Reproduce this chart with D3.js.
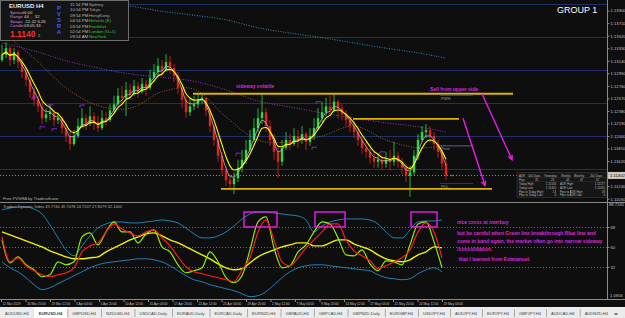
<!DOCTYPE html>
<html>
<head>
<meta charset="utf-8">
<script src="https://cdn.jsdelivr.net/npm/d3@7"></script>
<style>
	body { margin: 0; background: #0e0e0e; overflow: hidden; }
	svg { display: block; }
	text { font-family: "Liberation Sans", Arial, sans-serif; }
</style>
</head>
<body>
<div class="chart"></div>
<script>
	// candles (EURUSD H4), open = previous close
	var firstOpen = 1.1315;
	var closes = [1.1323,1.1333,1.1315,1.1327,1.1312,1.1297,1.1285,1.1267,1.1255,1.1245,
		1.1227,1.1233,1.1236,1.1224,1.1227,1.1212,1.1200,1.1188,1.1200,1.1215,
		1.1227,1.1218,1.1230,1.1221,1.1212,1.1227,1.1224,1.1239,1.1248,1.1261,
		1.1258,1.1270,1.1264,1.1276,1.1267,1.1279,1.1273,1.1288,1.1297,1.1306,
		1.1300,1.1312,1.1303,1.1291,1.1273,1.1255,1.1236,1.1245,1.1248,1.1255,
		1.1258,1.1239,1.1215,1.1194,1.1170,1.1148,1.1133,1.1127,1.1136,1.1152,
		1.1164,1.1179,1.1194,1.1212,1.1227,1.1236,1.1215,1.1194,1.1176,1.1161,
		1.1182,1.1194,1.1188,1.1200,1.1194,1.1203,1.1191,1.1200,1.1212,1.1227,
		1.1236,1.1245,1.1239,1.1252,1.1242,1.1233,1.1224,1.1215,1.1206,1.1194,
		1.1182,1.1176,1.1167,1.1161,1.1164,1.1158,1.1164,1.1161,1.1170,1.1161,
		1.1152,1.1140,1.1145,1.1170,1.1194,1.1206,1.1209,1.1200,1.1188,1.1176,
		1.1158,1.1140];
	var highs = [1.1338,1.1342,1.1336,1.1333,1.1330,1.1318,1.1303,1.1288,1.1273,1.1261,
		1.1252,1.1242,1.1248,1.1239,1.1236,1.1230,1.1218,1.1206,1.1209,1.1227,
		1.1242,1.1233,1.1245,1.1236,1.1230,1.1239,1.1236,1.1248,1.1261,1.1273,
		1.1276,1.1282,1.1279,1.1285,1.1282,1.1288,1.1285,1.1300,1.1309,1.1318,
		1.1315,1.1324,1.1321,1.1309,1.1297,1.1276,1.1261,1.1258,1.1261,1.1264,
		1.1264,1.1258,1.1242,1.1218,1.1197,1.1176,1.1155,1.1142,1.1145,1.1164,
		1.1179,1.1194,1.1209,1.1227,1.1242,1.1265,1.1242,1.1224,1.1203,1.1185,
		1.1194,1.1206,1.1203,1.1212,1.1209,1.1215,1.1206,1.1212,1.1227,1.1242,
		1.1252,1.1258,1.1261,1.1264,1.1255,1.1248,1.1239,1.1230,1.1221,1.1212,
		1.1200,1.1191,1.1182,1.1176,1.1173,1.1170,1.1176,1.1179,1.1191,1.1176,
		1.1167,1.1158,1.1155,1.1179,1.1203,1.1215,1.1218,1.1215,1.1206,1.1194,
		1.1179,1.1164];
	var lows = [1.1312,1.1318,1.1306,1.1309,1.1303,1.1288,1.1276,1.1258,1.1245,1.1236,
		1.1218,1.1221,1.1224,1.1215,1.1218,1.1203,1.1191,1.1179,1.1185,1.1197,
		1.1212,1.1209,1.1215,1.1209,1.1206,1.1209,1.1215,1.1221,1.1236,1.1245,
		1.1248,1.1230,1.1255,1.1261,1.1258,1.1264,1.1261,1.1270,1.1282,1.1291,
		1.1291,1.1297,1.1294,1.1282,1.1264,1.1242,1.1227,1.1230,1.1239,1.1242,
		1.1248,1.1230,1.1206,1.1185,1.1161,1.1140,1.1124,1.1118,1.1112,1.1130,
		1.1145,1.1158,1.1176,1.1191,1.1206,1.1218,1.1206,1.1185,1.1164,1.1136,
		1.1155,1.1179,1.1179,1.1185,1.1182,1.1188,1.1179,1.1185,1.1194,1.1209,
		1.1221,1.1230,1.1230,1.1236,1.1227,1.1224,1.1215,1.1206,1.1197,1.1185,
		1.1173,1.1167,1.1158,1.1152,1.1152,1.1148,1.1152,1.1148,1.1155,1.1152,
		1.1142,1.1130,1.1108,1.1140,1.1164,1.1191,1.1197,1.1191,1.1179,1.1167,
		1.1148,1.1133];
	var bidPrice = 1.11402;

	// slow moving averages, read every 8 bars
	var maIdx = [0,8,16,24,32,40,48,56,64,72,80,88,96,104,111];
	var tealMa = [1.1429,1.1418,1.1411,1.1405,1.1397,1.1389,1.1383,1.1376,1.1364,1.1356,1.1349,1.1341,1.1333,1.1326,1.1318];
	var purpleMa = [1.1341,1.1329,1.1314,1.1303,1.1294,1.1289,1.1283,1.1270,1.1253,1.1244,1.1235,1.1227,1.1220,1.1214,1.1206];
	var brownMa = [1.1358,1.1318,1.1273,1.1246,1.1242,1.1267,1.1271,1.1229,1.1194,1.1191,1.1200,1.1215,1.1194,1.1182,1.1186];

	// quarter levels and fractal marks
	var levelPrices = [1.1400,1.1350,1.1300,1.1250,1.1200,1.1150];
	var fractalIdx = [8,10,12,13,20,59,78,79,95];
	var fractalPrice = [1.1259,1.1214,1.1247,1.1211,1.1247,1.1174,1.1183,1.1252,1.1176];

	// hand drawn zones (bar index, price)
	var zoneStart = [47.75,87.75,54.75];
	var zoneEnd = [127.75,114.25,122.5];
	var zonePrice = [1.1264,1.1226,1.1120];
	var pivotPrice = [1.1262,1.1185,1.1128];
	var pivotLabel = ["PWH","Pivot","PDL"];
	var arrowFrom = [[115.25,1.1227],[120,1.1264]];
	var arrowTo = [[120.75,1.1125],[127.5,1.1164]];

	// Traders Dynamic Index, every 2 bars
	var tdiUpper = [83.3,85.1,86,86,84.2,79.7,69.8,58.1,47.3,41.9,50.9,59.9,67.1,70.7,72.5,72.5,71.6,71.6,72.5,73.4,
		74.3,73.4,71.6,67.1,61.7,58.1,58.1,59.9,63.5,68.9,75.2,79.7,81.5,81.5,80.6,79.7,78.8,77.9,74.3,63.5,
		68.9,72.5,74.3,75.2,75.2,75.2,74.3,70.7,63.5,58.1,58.1,65.3,72.5,73.4,73.4,74.3];
	var tdiLower = [36.5,31.1,27.5,22.1,15.8,11.3,13.1,16.7,20.3,23.9,27.5,31.1,33.8,35.6,36.5,37.4,38.3,39.2,39.2,38.3,
		36.5,32.9,28.4,23.9,20.3,18.5,15.8,14,12.2,10.4,7.7,5,5.9,9.5,15.8,22.1,27.5,31.1,32.9,33.8,
		33.8,32.9,32,31.1,30.2,29.3,28.4,24.8,22.1,21.2,20.3,21.2,25.7,29.3,31.1,27.5];
	var tdiBase = [63.5,60.8,58.1,55.4,52.7,50,46.4,43.7,41,39.2,39.2,40.1,41,45.5,49.1,52.7,56.3,59,61.7,62.6,
		59.9,56.3,53.6,50,46.4,42.8,39.2,34.7,31.1,29.3,30.2,35.6,41,44.6,47.3,50,51.8,53.6,53.6,50.9,
		50.9,53.6,56.3,56.3,52.7,50,47.3,42.8,39.2,37.4,36.5,38.3,42.8,45.5,50,49.1];
	var tdiRsi = [56.3,35.6,41,33.8,29.3,23,24.8,36.5,33.8,36.5,59,62.6,51.8,63.5,72.5,63.5,63.5,53.6,61.7,65.3,
		50,45.5,33.8,26.6,28.4,31.1,45.5,36.5,22.1,17.6,23.9,47.3,72.5,77,49.1,31.1,32.9,45.5,51.8,63.5,
		72.5,70.7,58.1,42.8,41.9,47.3,34.7,28.4,37.4,36.5,33.8,51.8,70.7,72.5,54.5,31.1];
	var tdiSignal = [59,36.5,40.1,32.9,28.4,24.8,23,24.8,26.6,31.1,45.5,50.9,53.6,63.5,70.7,66.2,62.6,59.9,63.5,65.3,
		58.1,50.9,41,32,27.5,25.7,23.9,22.1,20.3,18.5,29.3,40.1,63.5,74.3,56.3,36.5,32.9,40.1,49.1,56.3,
		63.5,70.7,70.7,56.3,46.4,41.9,37.4,30.2,32.9,36.5,40.1,47.3,63.5,71.6,63.5,40.1];
	var tdiLevels = [68,50,32];
	var tdiBoxStart = [60.5,78.25,102.25];
	var tdiBoxEnd = [68.75,85.75,108.75];
	var tdiBoxTop = 81.5, tdiBoxBottom = 68;

	// axis labels
	var priceTicks = [1.13900,1.13710,1.13520,1.13330,1.13140,1.12950,1.12760,1.12570,1.12380,1.12190,1.12000,1.11810,1.11620,1.11430,1.11240,1.11050];
	var timeLabels = ["12 Mar 2019","26 Mar 20:00","29 Mar 12:00","3 Apr 04:00","5 Apr 20:00","10 Apr 12:00","15 Apr 04:00",
		"17 Apr 20:00","22 Apr 12:00","25 Apr 04:00","29 Apr 20:00","2 May 12:00","7 May 04:00","9 May 20:00",
		"14 May 12:00","17 May 04:00","21 May 20:00","24 May 12:00","29 May 04:00"];
	var tabNames = ["AUDUSD,H4","EURUSD,H4","GBPUSD,H4","NZDUSD,H4","USDCAD,Daily","EURAUD,Daily","EURCAD,Daily","EURNZD,H4",
		"GBPAUD,H4","GBPCAD,H4","GBPNZD,Daily","EURGBP,H4","USDJPY,H4","AUDJPY,H4","EURJPY,H4","GBPJPY,H4","AUDCAD,H4","AUDNZD,H4","N"];
	var activeTab = "EURUSD,H4";

	// info panel
	var infoKeys = ["Spread","Range","Swaps","Candle"];
	var infoVals = ["0.00","44 ... 32","-12.22  6.26","03:05:33"];
	var clockTimes = ["11:54 PM","10:54 PM","09:54 PM","04:54 PM","03:54 PM","02:54 PM","09:54 AM"];
	var clockCities = ["Sydney","Tokyo","HongKong","Helsinki (E)","Frankfurt","London (G+1)","NewYork"];
	var adrHead = ["ADR","100 Days","Yesterday","Weekly","Monthly","200 Days"];
	var adrPips = ["Pips:","35","29","44","47","67"];
	var adrRows = [["Today High:","1.11536","ADR High:","1.11577"],
		["Today Low:","1.11400","ADR Low:","1.11035"],
		["Pips to Today High:","13","Pips to ADR High:","18"],
		["Pips to Today Low:","0","Pips to ADR Low:","0"]];

	var noteLines = ["nice cross at overbuy",
		"but be careful when Green line breakthrough Blue line and",
		"come in band again, the market often go into narrow sideway",
		"/consolidation.",
		"that I learned from Emmanuel."];
	var noteVals = [70.3,60.3,53.1,46.4,37.4];

	// set sizes
	var width = 625, height = 318,
		axisX = 607,
		mainBottom = 202,
		indTop = 203, indBottom = 299,
		tabTop = 307;

	var svg = d3.select(".chart")
		.append("svg")
			.attr("width", width)
			.attr("height", height);

	svg.append("rect")
		.attr("width", width)
		.attr("height", height)
		.attr("fill", "#0e0e0e");

	svg.append("clipPath").attr("id", "mainClip")
		.append("rect").attr("x", 0).attr("y", 0).attr("width", axisX).attr("height", mainBottom);
	svg.append("clipPath").attr("id", "indClip")
		.append("rect").attr("x", 0).attr("y", indTop).attr("width", axisX).attr("height", indBottom - indTop);

	// scales
	var x = d3.scaleLinear().domain([0, 111]).range([2, 446]);
	var y = d3.scaleLinear().domain([1.1100, 1.1400]).range([mainBottom, 4]);
	var yi = d3.scaleLinear().domain([1.09, 88.72]).range([301, 204]);

	var main = svg.append("g").attr("clip-path", "url(#mainClip)");
	var ind = svg.append("g").attr("clip-path", "url(#indClip)");

	// quarter level lines
	main.selectAll(".level")
		.data(levelPrices)
		.enter().append("line")
			.attr("class", "level")
			.attr("x1", 0).attr("x2", axisX)
			.attr("y1", function(d){ return Math.round(y(d)) + 0.5; })
			.attr("y2", function(d){ return Math.round(y(d)) + 0.5; })
			.attr("stroke", function(d, i){ return i % 2 ? "#1e3f1e" : "#1d3368"; })
			.attr("stroke-width", 1);

	// bid line
	main.append("line")
		.attr("x1", 0).attr("x2", axisX)
		.attr("y1", Math.round(y(bidPrice)) + 0.5).attr("y2", Math.round(y(bidPrice)) + 0.5)
		.attr("stroke", "#8a8a8a")
		.attr("stroke-dasharray", "1,2");

	// slow MAs (dotted)
	var maLine = function(vals){
		return d3.line()
			.x(function(d, j){ return x(maIdx[j]); })
			.y(function(d){ return y(d); })
			.curve(d3.curveCatmullRom)(vals);
	};
	[[tealMa, "#2a8fb2"], [purpleMa, "#9b2fc0"], [brownMa, "#9a5a22"]].forEach(function(m){
		main.append("path")
			.attr("d", maLine(m[0]))
			.attr("fill", "none")
			.attr("stroke", m[1])
			.attr("stroke-width", 1)
			.attr("stroke-dasharray", "1,1.5");
	});

	// candles
	var bars = closes.map(function(c, i){
		var o = i === 0 ? firstOpen : closes[i - 1];
		return { i: i, o: o, c: c, h: Math.max(highs[i], o, c), l: Math.min(lows[i], o, c) };
	});
	var barColor = function(d){ return d.c >= d.o ? "#2bd94a" : "#e3221c"; };

	main.selectAll(".wick")
		.data(bars)
		.enter().append("line")
			.attr("class", "wick")
			.attr("x1", function(d){ return x(d.i); })
			.attr("x2", function(d){ return x(d.i); })
			.attr("y1", function(d){ return y(d.h); })
			.attr("y2", function(d){ return y(d.l); })
			.attr("stroke", barColor)
			.attr("stroke-width", 0.8);

	main.selectAll(".body")
		.data(bars)
		.enter().append("rect")
			.attr("class", "body")
			.attr("x", function(d){ return x(d.i) - 1.2; })
			.attr("width", 2.4)
			.attr("y", function(d){ return y(Math.max(d.o, d.c)); })
			.attr("height", function(d){ return Math.max(1, Math.abs(y(d.o) - y(d.c))); })
			.attr("fill", barColor);

	// fast EMAs from the closes
	var ema = function(vals, n){
		var k = 2 / (n + 1), prev = vals[0];
		return vals.map(function(v){ prev = prev + k * (v - prev); return prev; });
	};
	var emaLine = d3.line()
		.x(function(d, i){ return x(i); })
		.y(function(d){ return y(d); })
		.curve(d3.curveMonotoneX);

	main.append("path")
		.attr("d", emaLine(ema(closes, 3)))
		.attr("fill", "none")
		.attr("stroke", "#b8b8b8")
		.attr("stroke-width", 0.8);
	main.append("path")
		.attr("d", emaLine(ema(closes, 5)))
		.attr("fill", "none")
		.attr("stroke", "#ffff00")
		.attr("stroke-width", 1.1);

	// fractal marks
	main.selectAll(".fractal")
		.data(fractalIdx)
		.enter().append("path")
			.attr("class", "fractal")
			.attr("d", function(d, j){
				var px = x(d), py = y(fractalPrice[j]);
				return "M" + (px - 2) + "," + (py + 2.5) + "V" + py + "H" + (px + 3);
			})
			.attr("fill", "none")
			.attr("stroke", "#8a2be2")
			.attr("stroke-width", 0.9);

	// zones
	main.selectAll(".zone")
		.data(zonePrice)
		.enter().append("line")
			.attr("class", "zone")
			.attr("x1", function(d, j){ return x(zoneStart[j]); })
			.attr("x2", function(d, j){ return x(zoneEnd[j]); })
			.attr("y1", function(d){ return y(d); })
			.attr("y2", function(d){ return y(d); })
			.attr("stroke", "#dcb400")
			.attr("stroke-width", 1.8);

	// pivot lines
	main.selectAll(".pivot")
		.data(pivotPrice)
		.enter().append("line")
			.attr("class", "pivot")
			.attr("x1", x(109.5)).attr("x2", x(117.75))
			.attr("y1", function(d){ return y(d); })
			.attr("y2", function(d){ return y(d); })
			.attr("stroke", function(d, j){ return j === 2 ? "#7a1c1c" : "#56628a"; })
			.attr("stroke-width", 1);
	main.selectAll(".pivotLabel")
		.data(pivotPrice)
		.enter().append("text")
			.attr("class", "pivotLabel")
			.attr("x", x(109.75))
			.attr("y", function(d){ return y(d) + 4.5; })
			.attr("font-size", "4px")
			.attr("fill", "#9a9a9a")
			.text(function(d, j){ return pivotLabel[j]; });

	// current price tick
	main.append("line")
		.attr("x1", x(112.3)).attr("x2", x(112.8))
		.attr("y1", y(bidPrice)).attr("y2", y(bidPrice))
		.attr("stroke", "#ff2020")
		.attr("stroke-width", 1.5);

	// arrows
	arrowFrom.forEach(function(a, j){
		var x1 = x(a[0]), y1 = y(a[1]), x2 = x(arrowTo[j][0]), y2 = y(arrowTo[j][1]);
		var ang = Math.atan2(y2 - y1, x2 - x1), len = 5;
		main.append("line")
			.attr("x1", x1).attr("y1", y1).attr("x2", x2).attr("y2", y2)
			.attr("stroke", "#e81ee8").attr("stroke-width", 1.4);
		main.append("path")
			.attr("d", "M" + (x2 - len * Math.cos(ang - 0.45)) + "," + (y2 - len * Math.sin(ang - 0.45)) +
				"L" + x2 + "," + y2 +
				"L" + (x2 - len * Math.cos(ang + 0.45)) + "," + (y2 - len * Math.sin(ang + 0.45)))
			.attr("fill", "none").attr("stroke", "#e81ee8").attr("stroke-width", 1.4);
	});

	// chart notes
	main.append("text")
		.attr("x", x(58.5)).attr("y", y(1.1273))
		.attr("font-size", "5px").attr("font-weight", "bold")
		.attr("fill", "#d826d8")
		.text("sideway volatile");
	main.append("text")
		.attr("x", x(107)).attr("y", y(1.1268))
		.attr("font-size", "5px").attr("font-weight", "bold")
		.attr("fill", "#d826d8")
		.text("Sell from upper side");

	// ADR table
	var adr = main.append("g");
	adr.append("rect")
		.attr("x", 517).attr("y", 172.5).attr("width", 90).attr("height", 25)
		.attr("fill", "#161616").attr("stroke", "#3a3a3a").attr("stroke-width", 0.6);
	var headCols = [519, 528, 544, 561, 574, 590];
	var pipCols = [519, 535, 551, 566, 580, 596];
	adrHead.forEach(function(cell, c){
		adr.append("text").attr("x", headCols[c]).attr("y", 176.5)
			.attr("font-size", "2.9px").attr("fill", "#b8b8b8").text(cell);
	});
	adrPips.forEach(function(cell, c){
		adr.append("text").attr("x", pipCols[c]).attr("y", 180.5)
			.attr("font-size", "2.9px").attr("fill", "#b8b8b8").text(cell);
	});
	adrRows.forEach(function(row, r){
		[519, 556, 560, 605].forEach(function(cx, c){
			adr.append("text")
				.attr("x", cx).attr("y", 185 + r * 3.8)
				.attr("text-anchor", c % 2 ? "end" : "start")
				.attr("font-size", "2.9px").attr("fill", "#b8b8b8")
				.text(row[c]);
		});
	});
	[177.5, 181.5].forEach(function(ly){
		adr.append("line")
			.attr("x1", 518).attr("x2", 606)
			.attr("y1", ly).attr("y2", ly)
			.attr("stroke", "#3a3a3a").attr("stroke-width", 0.4);
	});

	main.append("text")
		.attr("x", 557).attr("y", 13)
		.attr("font-size", "9px")
		.attr("fill", "#ffffff")
		.text("GROUP 1");

	// info panel
	var info = svg.append("g");
	info.append("rect")
		.attr("x", 0.5).attr("y", 0.5).attr("width", 128).attr("height", 40)
		.attr("fill", "#141414").attr("stroke", "#6e6e6e").attr("stroke-width", 1);
	info.append("text").attr("x", 9).attr("y", 7.5)
		.attr("font-size", "6px").attr("font-weight", "bold").attr("fill", "#e8e8e8")
		.text("EURUSD   H4");
	infoKeys.forEach(function(k, j){
		info.append("text").attr("x", 10).attr("y", 13.5 + j * 4.5)
			.attr("font-size", "4.3px").attr("fill", "#c98ad2").text(k);
		info.append("text").attr("x", 24).attr("y", 13.5 + j * 4.5)
			.attr("font-size", "4.3px").attr("fill", "#d8d8d8").text(infoVals[j]);
	});
	info.append("text").attr("x", 10).attr("y", 37)
		.attr("font-size", "8.5px").attr("font-weight", "bold").attr("fill", "#ff2a2a")
		.text(bidPrice.toFixed(5).slice(0, 6));
	info.append("text").attr("x", 38).attr("y", 37)
		.attr("font-size", "4px").attr("fill", "#bbbbbb")
		.text(bidPrice.toFixed(5).slice(6));
	"PVSRA".split("").forEach(function(ch, j){
		info.append("text").attr("x", 59).attr("y", 10 + j * 6)
			.attr("font-size", "6px").attr("font-weight", "bold").attr("fill", "#3d5cff")
			.attr("text-anchor", "middle").text(ch);
	});
	clockTimes.forEach(function(t, j){
		info.append("text").attr("x", 70).attr("y", 6 + j * 5.4)
			.attr("font-size", "4.3px").attr("fill", "#bdbdbd").text(t);
		info.append("text").attr("x", 89).attr("y", 6 + j * 5.4)
			.attr("font-size", "4.3px").attr("fill", j < 3 ? "#a8a8a8" : "#3cc43c").text(clockCities[j]);
	});

	// main / indicator separator
	svg.append("line")
		.attr("x1", 0).attr("x2", width)
		.attr("y1", mainBottom + 0.5).attr("y2", mainBottom + 0.5)
		.attr("stroke", "#8a8a8a");
	svg.append("text").attr("x", 3).attr("y", 199.5)
		.attr("font-size", "4.2px").attr("fill", "#b0b0b0")
		.text("Free PVSRA by Traderathane");

	// TDI levels
	ind.selectAll(".tdiLevel")
		.data(tdiLevels)
		.enter().append("line")
			.attr("class", "tdiLevel")
			.attr("x1", 0).attr("x2", axisX)
			.attr("y1", function(d){ return Math.round(yi(d)) + 0.5; })
			.attr("y2", function(d){ return Math.round(yi(d)) + 0.5; })
			.attr("stroke", "#6a6a6a")
			.attr("stroke-dasharray", "1,2");

	var tdiLine = d3.line()
		.x(function(d, k){ return x(k * 2); })
		.y(function(d){ return yi(d); })
		.curve(d3.curveMonotoneX);
	[[tdiUpper, "#1f7fb0", 1], [tdiLower, "#1f7fb0", 1], [tdiBase, "#f2f200", 1.4],
	 [tdiRsi, "#8cf000", 1.2], [tdiSignal, "#ff1a1a", 1.2]].forEach(function(s){
		ind.append("path")
			.attr("d", tdiLine(s[0]))
			.attr("fill", "none")
			.attr("stroke", s[1])
			.attr("stroke-width", s[2]);
	});

	ind.selectAll(".tdiBox")
		.data(tdiBoxStart)
		.enter().append("rect")
			.attr("class", "tdiBox")
			.attr("x", function(d){ return x(d); })
			.attr("y", yi(tdiBoxTop))
			.attr("width", function(d, j){ return x(tdiBoxEnd[j]) - x(d); })
			.attr("height", yi(tdiBoxBottom) - yi(tdiBoxTop))
			.attr("fill", "none")
			.attr("stroke", "#e81ee8")
			.attr("stroke-width", 1.4);

	ind.selectAll(".note")
		.data(noteLines)
		.enter().append("text")
			.attr("class", "note")
			.attr("x", function(d, j){ return x(j === 4 ? 114.2 : 113.75); })
			.attr("y", function(d, j){ return yi(noteVals[j]); })
			.attr("font-size", "5px")
			.attr("font-weight", "bold")
			.attr("fill", "#d826d8")
			.text(function(d){ return d; });

	svg.append("text").attr("x", 3).attr("y", 208)
		.attr("font-size", "4px").attr("fill", "#b0b0b0")
		.text("Traders Dynamic Index 49.7740 49.7478 24.7207 27.8079 32.1400");

	// bottom border of indicator
	svg.append("line")
		.attr("x1", 0).attr("x2", width)
		.attr("y1", indBottom + 0.5).attr("y2", indBottom + 0.5)
		.attr("stroke", "#8a8a8a");

	// price axis
	svg.append("line")
		.attr("x1", axisX + 0.5).attr("x2", axisX + 0.5)
		.attr("y1", 0).attr("y2", indBottom)
		.attr("stroke", "#8a8a8a");
	var yAxis = svg.append("g")
		.attr("transform", "translate(" + (axisX + 0.5) + ",0)")
		.call(d3.axisRight(y).tickValues(priceTicks).tickSize(2).tickFormat(d3.format(".5f")));
	yAxis.select(".domain").remove();
	yAxis.selectAll("line").attr("stroke", "#8a8a8a");
	yAxis.selectAll("text").attr("fill", "#c0c0c0").attr("font-size", "4.2px").attr("x", 3)
		.attr("font-family", "Liberation Sans, Arial, sans-serif");

	// current price marker
	svg.append("rect")
		.attr("x", axisX + 1).attr("y", y(bidPrice) - 3.5).attr("width", 18).attr("height", 7)
		.attr("fill", "#c8c8c8");
	svg.append("text")
		.attr("x", axisX + 3).attr("y", y(bidPrice) + 1.5)
		.attr("font-size", "4.2px").attr("fill", "#111")
		.text(bidPrice.toFixed(5));

	// indicator axis
	var yiAxis = svg.append("g")
		.attr("transform", "translate(" + (axisX + 0.5) + ",0)")
		.call(d3.axisRight(yi).tickValues(tdiLevels).tickSize(2));
	yiAxis.select(".domain").remove();
	yiAxis.selectAll("line").attr("stroke", "#8a8a8a");
	yiAxis.selectAll("text").attr("fill", "#c0c0c0").attr("font-size", "4.2px").attr("x", 3)
		.attr("font-family", "Liberation Sans, Arial, sans-serif");
	svg.append("text").attr("x", axisX + 2).attr("y", yi(88.7241) + 2)
		.attr("font-size", "4.2px").attr("fill", "#c0c0c0").text("88.7241");
	svg.append("text").attr("x", axisX + 3).attr("y", 297)
		.attr("font-size", "4.2px").attr("fill", "#c0c0c0").text("1.0905");

	// time axis
	var xTime = d3.scalePoint().domain(timeLabels).range([1, 442]);
	var xAxis = svg.append("g")
		.attr("transform", "translate(0," + (indBottom + 0.5) + ")");
	timeLabels.forEach(function(t){
		xAxis.append("line")
			.attr("x1", xTime(t) + 0.5).attr("x2", xTime(t) + 0.5)
			.attr("y1", 0).attr("y2", 2.5)
			.attr("stroke", "#8a8a8a");
		var lbl = xAxis.append("text")
			.attr("x", xTime(t) + 1.5).attr("y", 5)
			.attr("font-size", "4px").attr("fill", "#c0c0c0")
			.text(t);
		lbl.attr("textLength", lbl.node().getComputedTextLength() * 0.8)
			.attr("lengthAdjust", "spacingAndGlyphs");
	});

	// tab bar
	svg.append("rect")
		.attr("x", 0).attr("y", tabTop).attr("width", width).attr("height", height - tabTop)
		.attr("fill", "#ececec");
	svg.append("clipPath").attr("id", "tabClip")
		.append("rect").attr("x", 0).attr("y", tabTop).attr("width", 610).attr("height", height - tabTop);
	var tabs = svg.append("g").attr("clip-path", "url(#tabClip)");
	var tabX = 0;
	tabNames.forEach(function(name){
		var g = tabs.append("g");
		var t = g.append("text")
			.attr("x", tabX + 5).attr("y", 314.5)
			.attr("font-size", "4.1px")
			.attr("fill", "#404040")
			.attr("font-weight", name === activeTab ? "bold" : "normal")
			.text(name);
		var w = t.node().getComputedTextLength() + 10;
		if (name === activeTab) {
			g.insert("rect", "text")
				.attr("x", tabX).attr("y", tabTop).attr("width", w).attr("height", height - tabTop)
				.attr("fill", "#ffffff");
		}
		tabX += w;
		g.append("line")
			.attr("x1", tabX + 0.5).attr("x2", tabX + 0.5)
			.attr("y1", tabTop + 2).attr("y2", height - 1)
			.attr("stroke", "#a8a8a8");
	});
	svg.append("text").attr("x", 614).attr("y", 314.5)
		.attr("font-size", "4px").attr("fill", "#404040").text("\u25C2\u25B8");
</script>
</body>
</html>
